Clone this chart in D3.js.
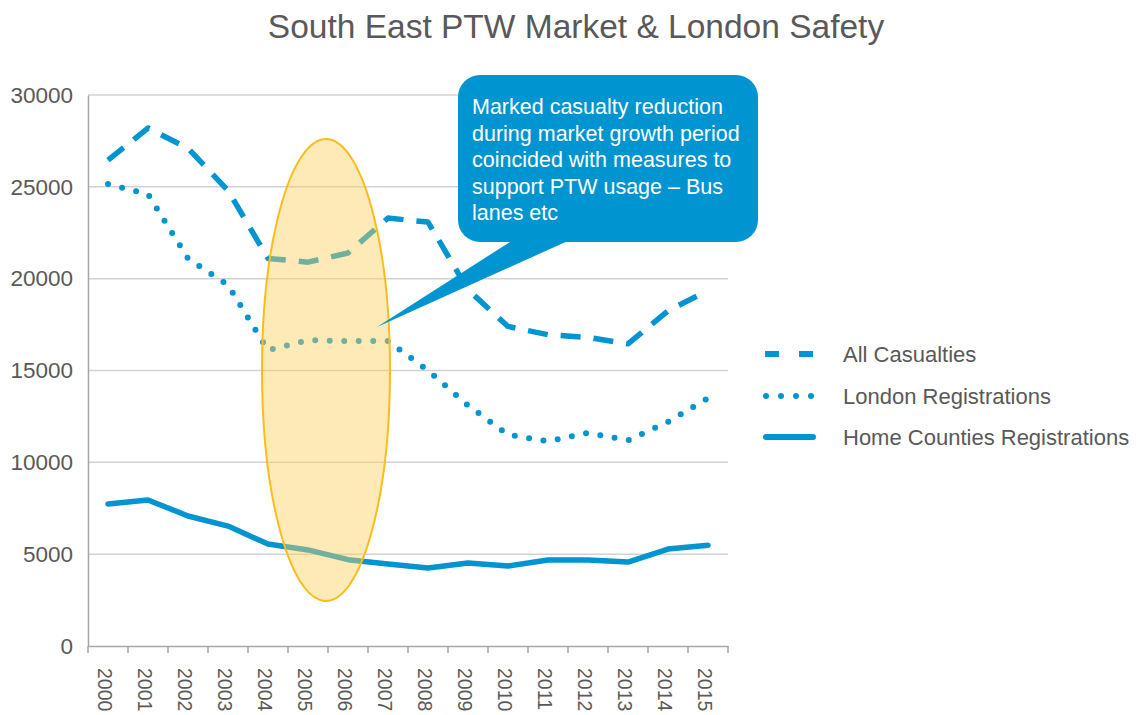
<!DOCTYPE html>
<html>
<head>
  <title>South East PTW Market & London Safety</title>
  <script src="https://cdn.jsdelivr.net/npm/d3@7"></script>
  <style>
    body { margin: 0; background: #fff; }
    svg { font-family: "Liberation Sans", Arial, sans-serif; }
  </style>
</head>
<body>
<script>
  // data
  const years = ["2000", "2001", "2002", "2003", "2004", "2005", "2006", "2007",
    "2008", "2009", "2010", "2011", "2012", "2013", "2014", "2015"];
  const allCasualties = [26450, 28200, 27100, 24800, 21100, 20900, 21400, 23300,
    23080, 19400, 17400, 16950, 16800, 16450, 18250, 19350];
  const londonRegs = [25150, 24600, 21100, 19650, 16100, 16650, 16600, 16600,
    15000, 13100, 11500, 11150, 11600, 11200, 12200, 13500];
  const homeCounties = [7730, 7950, 7080, 6530, 5550, 5230, 4700, 4460,
    4250, 4520, 4360, 4680, 4680, 4570, 5280, 5480];
  const yTicks = [0, 5000, 10000, 15000, 20000, 25000, 30000];
  const seriesNames = ["All Casualties", "London Registrations", "Home Counties Registrations"];
  const calloutLines = ["Marked casualty reduction", "during market growth period",
    "coincided with measures to", "support PTW usage \u2013 Bus", "lanes etc"];

  const w = 1142, h = 715;
  const plotL = 88, plotR = 728, plotT = 95, plotB = 646;
  const blue = "#0095d0";
  const grey = "#595959";

  const svg = d3.select("body").append("svg")
    .attr("width", w).attr("height", h);

  const x = d3.scaleBand().domain(years).range([plotL, plotR]);
  const y = d3.scaleLinear().domain([0, 30000]).range([plotB, plotT]);

  // title
  svg.append("text")
    .attr("x", 576).attr("y", 38)
    .attr("text-anchor", "middle")
    .attr("font-size", 33.5)
    .attr("fill", grey)
    .text("South East PTW Market & London Safety");

  // grid
  svg.append("g").selectAll("line")
    .data(yTicks.filter(d => d > 0))
    .enter().append("line")
    .attr("x1", plotL).attr("x2", plotR)
    .attr("y1", d => y(d)).attr("y2", d => y(d))
    .attr("stroke", "#d2d2d2").attr("stroke-width", 1.5);

  // y axis
  const yAxis = svg.append("g")
    .attr("transform", `translate(${plotL},0)`)
    .call(d3.axisLeft(y).tickValues(yTicks).tickSize(0).tickPadding(15).tickFormat(d3.format("d")));
  yAxis.select(".domain").attr("stroke", "#a6a6a6").attr("stroke-width", 1.5);
  yAxis.selectAll("text").attr("font-size", 22.5).attr("fill", grey)
    .attr("font-family", "Liberation Sans, Arial, sans-serif");

  // x axis
  const xAxis = svg.append("g")
    .attr("transform", `translate(0,${plotB})`)
    .call(d3.axisBottom(x).tickSize(0).tickPadding(0));
  xAxis.select(".domain").attr("stroke", "#a6a6a6").attr("stroke-width", 1.5);
  xAxis.selectAll(".tick text")
    .attr("font-size", 19.5).attr("fill", grey)
    .attr("font-family", "Liberation Sans, Arial, sans-serif")
    .attr("transform", "translate(-3,22) rotate(90)")
    .attr("text-anchor", "start")
    .attr("dy", "0.35em");
  // boundary tick marks
  svg.append("g").selectAll("line")
    .data(d3.range(years.length + 1))
    .enter().append("line")
    .attr("x1", i => plotL + i * x.step()).attr("x2", i => plotL + i * x.step())
    .attr("y1", plotB).attr("y2", plotB + 7)
    .attr("stroke", "#a6a6a6").attr("stroke-width", 1.5);

  const cx = d => x(d) + x.bandwidth() / 2;

  function drawLine(values, dash, width, cap) {
    svg.append("path")
      .datum(values)
      .attr("fill", "none")
      .attr("stroke", blue)
      .attr("stroke-width", width)
      .attr("stroke-linejoin", "round")
      .attr("stroke-linecap", cap)
      .attr("stroke-dasharray", dash)
      .attr("d", d3.line().x((d, i) => cx(years[i])).y(d => y(d)));
  }
  drawLine(allCasualties, "20,13", 5.5, "butt");
  drawLine(londonRegs, "0,14.5", 6, "round");
  drawLine(homeCounties, null, 5.5, "round");

  // highlight ellipse
  svg.append("ellipse")
    .attr("cx", 326).attr("cy", 370).attr("rx", 64).attr("ry", 231)
    .attr("fill", "#fcd160").attr("fill-opacity", 0.45)
    .attr("stroke", "#fbbc1c").attr("stroke-width", 2);

  // callout
  svg.append("path")
    .attr("d", "M513,240 L570,240 L377,327 Z")
    .attr("fill", blue);
  svg.append("rect")
    .attr("x", 458).attr("y", 75).attr("width", 300).attr("height", 167)
    .attr("rx", 22).attr("fill", blue);
  svg.append("g").selectAll("text")
    .data(calloutLines)
    .enter().append("text")
    .attr("x", 472).attr("y", (d, i) => 114 + i * 26.5)
    .attr("font-size", 21.5).attr("fill", "#fff")
    .text(d => d);

  // legend
  const legend = svg.append("g");
  const legY = [354, 396, 437];
  const legStyles = [
    { dash: "14,20", width: 6, cap: "butt", x1: 765 },
    { dash: "0,15", width: 6, cap: "round", x1: 766 },
    { dash: null, width: 6, cap: "round", x1: 766 }
  ];
  seriesNames.forEach((name, i) => {
    legend.append("line")
      .attr("x1", legStyles[i].x1).attr("x2", i === 1 ? 812 : 813)
      .attr("y1", legY[i]).attr("y2", legY[i])
      .attr("stroke", blue)
      .attr("stroke-width", legStyles[i].width)
      .attr("stroke-linecap", legStyles[i].cap)
      .attr("stroke-dasharray", legStyles[i].dash);
    legend.append("text")
      .attr("x", 843).attr("y", legY[i]).attr("dy", "0.35em")
      .attr("font-size", 22).attr("fill", grey)
      .text(name);
  });
</script>
</body>
</html>
